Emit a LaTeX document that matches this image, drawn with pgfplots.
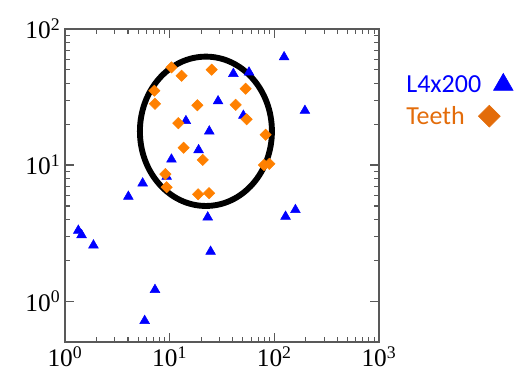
\documentclass[border=0pt]{standalone}
\usepackage{fontspec}
\setmainfont{Liberation Serif}
\newfontfamily\carlito{Carlito}
\usepackage{pgfplots}
\pgfplotsset{compat=1.18}
\definecolor{orgA}{RGB}{255,128,0}
\definecolor{orgB}{RGB}{227,108,10}
\begin{document}
\begin{tikzpicture}
\begin{axis}[
  scale only axis,
  width=235.5pt, height=234.75pt,
  xmode=log, ymode=log,
  xmin=1, xmax=1000, ymin=0.5, ymax=100,
  axis line style={black!65, line width=0.9pt},
  every tick/.style={black!65, line width=0.8pt},
  major tick length=7pt, minor tick length=4pt,
  xtick={1,10,100,1000},
  xticklabels={10\textsuperscript{0},10\textsuperscript{1},10\textsuperscript{2},10\textsuperscript{3}},
  ytick={1,10,100},
  yticklabels={10\textsuperscript{0},10\textsuperscript{1},10\textsuperscript{2}},
  tick label style={font=\fontsize{19}{22}\selectfont},
  legend plot pos=right,
  legend style={at={(1.065,0.87)}, anchor=north west, draw=none, fill=none,
    font=\carlito\fontsize{19.5}{23}\selectfont, row sep=5pt, column sep=6pt},
  legend cell align=left,
  clip=false,
]
\addplot[only marks, mark=triangle*, mark size=4.2pt, color=blue, forget plot] coordinates {
(124,62.2) (40.6,46.9) (57.3,48) (29,29.5) (196,25.1) (50.6,23.1) (14.3,21.1)
(23.9,17.7) (18.9,12.9) (10.4,11.0) (9.36,8.22) (5.52,7.34) (4.03,5.86)
(23.1,4.13) (128,4.18) (159,4.68) (1.34,3.30) (1.44,3.06) (1.87,2.57)
(24.6,2.31) (7.24,1.21) (5.77,0.716)
};
\addplot[only marks, mark=square*, mark size=3pt, mark options={rotate=45}, color=orgA, forget plot] coordinates {
(10.4,52.2) (13.0,45.3) (25.2,50.2) (7.14,35.2) (53.2,36.4) (7.24,28.2)
(18.4,27.5) (42.7,27.7) (54.4,21.7) (12.1,20.3) (82.6,16.7) (13.6,13.4)
(20.7,10.9) (79.7,10.0) (89.6,10.2) (9.1,8.57) (9.36,6.87) (18.7,6.09) (23.8,6.21)
};
\draw[black, line width=4.4pt] (axis cs:22.2,17.7) ellipse [x radius=49.5pt, y radius=56pt];
\addlegendimage{only marks, mark=triangle*, mark size=8.5pt, color=blue}
\addlegendentry{\textcolor{blue}{L4x200}}
\addlegendimage{only marks, mark=square*, mark size=5.8pt, mark options={overlay, xshift=-10.5pt, rotate=45}, color=orgB}
\addlegendentry{\textcolor{orgB}{Teeth}}
\end{axis}
\pgfresetboundingbox
\path (-48.75pt,-30pt) rectangle (340.5pt,256.5pt);
\end{tikzpicture}
\end{document}
